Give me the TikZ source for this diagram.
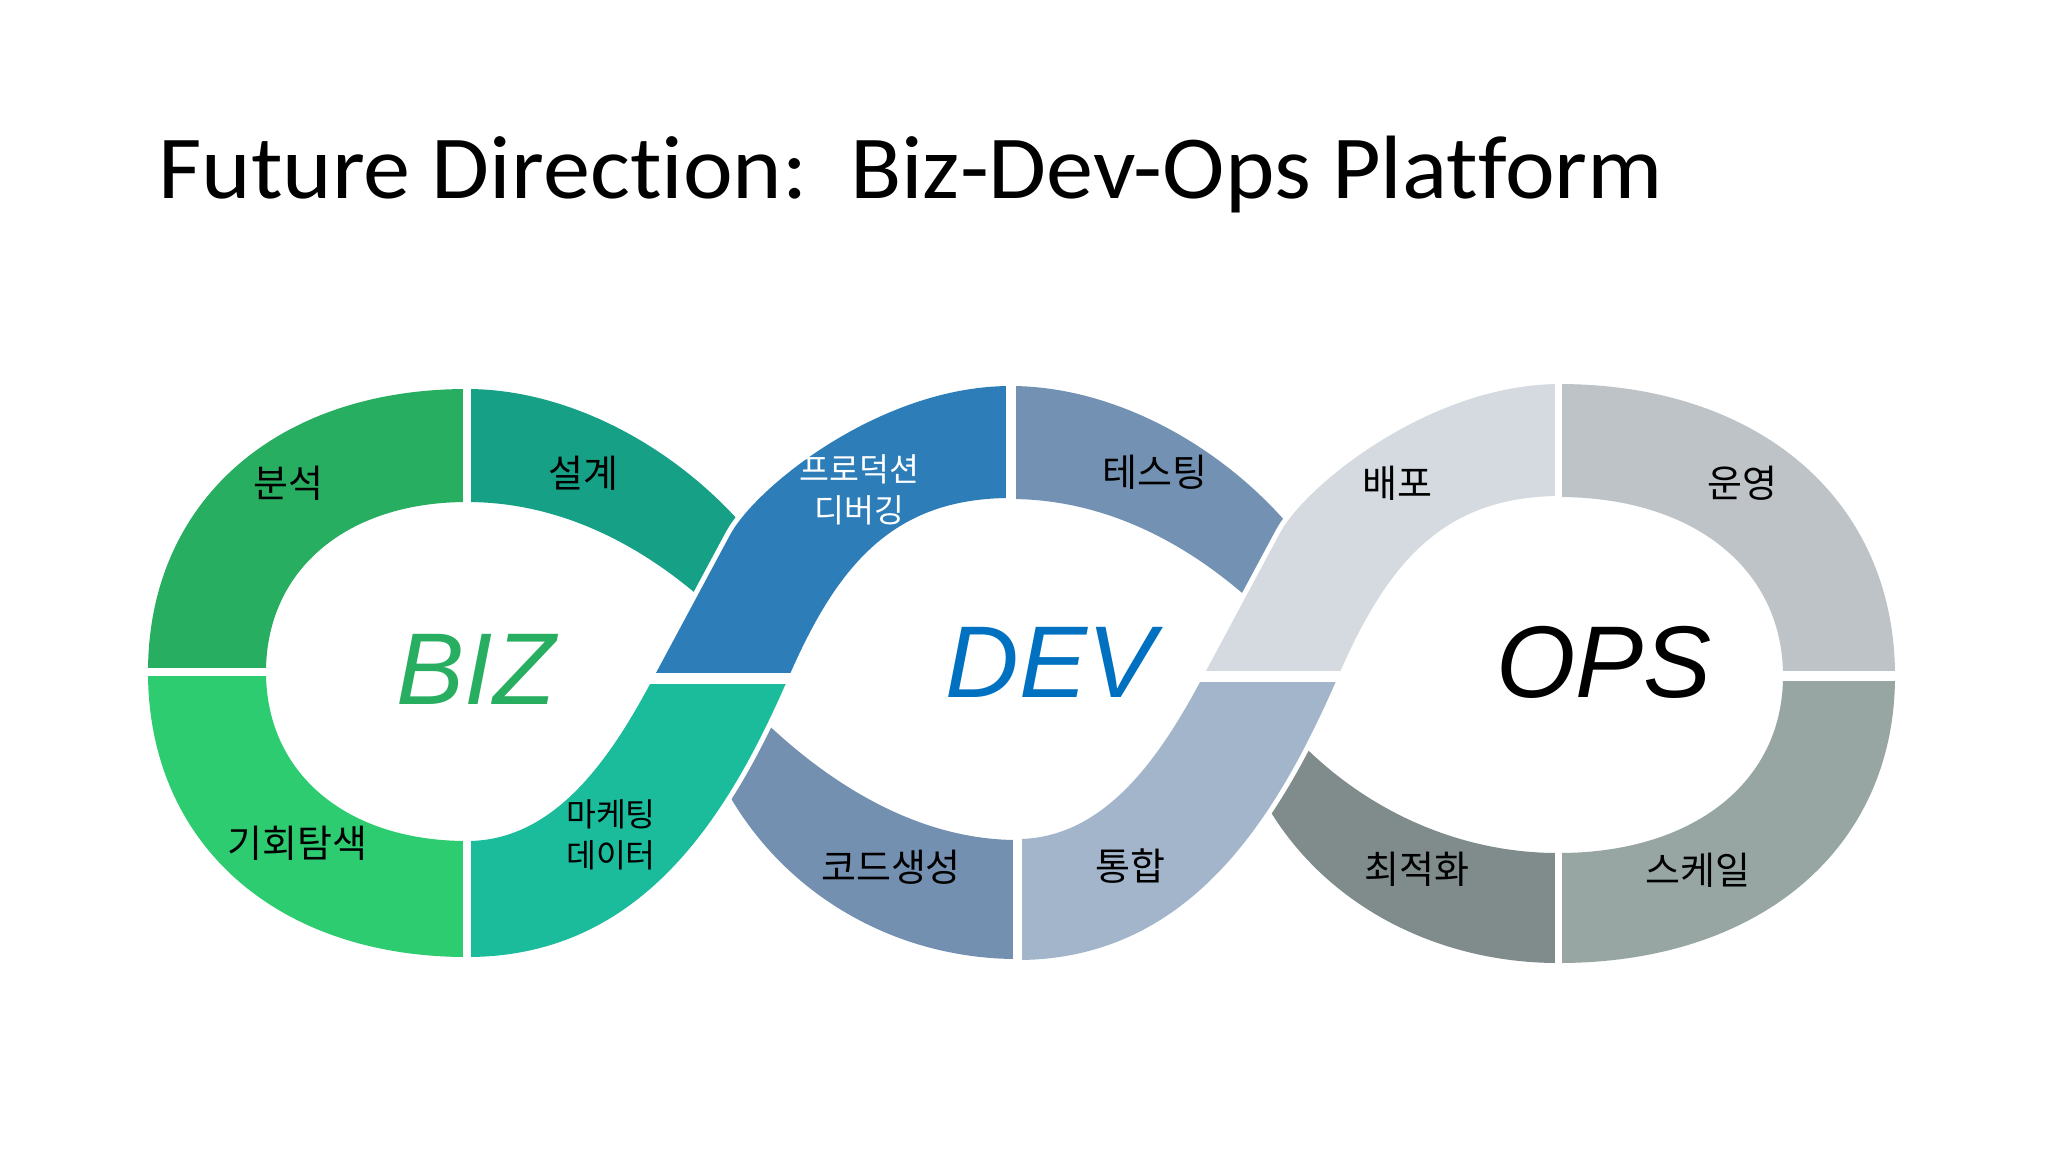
\documentclass[tikz,border=0pt]{standalone}
\usepackage{fontspec}
\setmainfont{Carlito}
\newfontfamily\titlefont[FakeStretch=1.047,Ligatures={NoCommon}]{Carlito}
\newfontfamily\krfont{Noto Sans CJK KR}
\newfontfamily\arialfont{Liberation Sans}
\definecolor{cBunseok}{HTML}{27AE60}
\definecolor{cSeolgye}{HTML}{16A085}
\definecolor{cGihoe}{HTML}{2ECC71}
\definecolor{cMarketing}{HTML}{1ABC9C}
\definecolor{cProd}{HTML}{2D7DB9}
\definecolor{cTesting}{HTML}{7391B2}
\definecolor{cCode}{HTML}{7390B1}
\definecolor{cTonghap}{HTML}{A2B5CB}
\definecolor{cBaepo}{HTML}{D4DADF}
\definecolor{cUnyeong}{HTML}{BEC3C8}
\definecolor{cChoejeok}{HTML}{7F8C8B}
\definecolor{cScale}{HTML}{97A6A3}
\definecolor{cBiz}{HTML}{27AE60}
\definecolor{cDev}{HTML}{0070C0}
\begin{document}
\begin{tikzpicture}[x=0.5pt,y=-0.5pt,
  gapline/.style={white,line width=#1},
  gapline/.default=4pt,
  lbl/.style={font=\krfont\fontsize{19}{23}\selectfont,inner sep=0pt,text=black},
  lbltwo/.style={font=\krfont\fontsize{16.25}{20.5}\selectfont,inner sep=0pt,align=center},
  big/.style={font=\arialfont\itshape\fontsize{51}{60}\selectfont,inner sep=0pt}]
\useasboundingbox (0,0) rectangle (2048,1152);
\fill[white] (0,0) rectangle (2048,1152);

% title
\node[anchor=base west,inner sep=0pt,font=\titlefont\fontsize{45}{54}\selectfont] (title) at (158,198) {Future Direction:\ \ Biz-Dev-Ops Platform};

% BIZ left half
\path[fill=cBunseok] (148,672) .. controls (148,502.2) and (275.6,389) .. (467,389) -- (467,502) .. controls (346.4,502) and (266,570) .. (266,672) -- cycle;
\path[fill=cGihoe] (148,672) .. controls (148,843) and (275.6,957) .. (467,957) -- (467,841) .. controls (346.4,841) and (266,773.4) .. (266,672) -- cycle;

% S2 (under): seolgye + code
\path[fill=cSeolgye] (467,389) .. controls (580,389) and (700,460) .. (770,560) -- (730,625) .. controls (650,545) and (560,502) .. (467,502) -- cycle;
\path[fill=cCode] (740.3,698.7) -- (769.5,726) .. controls (838.2,790.1) and (923.5,840) .. (1017.5,840) -- (1017.5,959) .. controls (898.5,959) and (788.5,898) .. (729,795) -- (709,760) -- cycle;

% S1 (over): marketing + production debugging
\draw[gapline=5pt] (467,841) .. controls (555.7,841) and (611.4,756.8) .. (653,678.5) -- (730,535) .. controls (755,488) and (880,386) .. (1010.5,386);
\draw[gapline=5pt] (467,957) .. controls (640,957) and (726.7,819.7) .. (788,678.5) .. controls (835.8,568.5) and (890.5,498) .. (1010.5,498);
\path[fill=cMarketing] (467,841) .. controls (555.7,841) and (611.4,756.8) .. (653,678.5) -- (788,678.5) .. controls (726.7,819.7) and (640,957) .. (467,957) -- cycle;
\path[fill=cProd] (653,678.5) -- (730,535) .. controls (755,488) and (880,386) .. (1010.5,386) -- (1010.5,498) .. controls (890.5,498) and (835.8,568.5) .. (788,678.5) -- cycle;

% S2' (under): testing + optimisation
\begin{scope}[shift={(543.5,-3)}]
\path[fill=cTesting] (467,389) .. controls (580,389) and (700,460) .. (770,560) -- (730,625) .. controls (650,545) and (560,502) .. (467,502) -- cycle;
\end{scope}
\path[fill=cChoejeok] (1281,724.5) -- (1310,752) .. controls (1377.2,815.8) and (1465.3,853) .. (1558,853) -- (1558,963) .. controls (1443.4,963) and (1333,911) .. (1272,814) -- (1250.7,780.2) -- cycle;

% S1' (over): integration + deployment
\begin{scope}[shift={(550,-2)}]
\draw[gapline=5pt] (467,841) .. controls (555.7,841) and (611.4,756.8) .. (653,678.5) -- (730,535) .. controls (755,488) and (880,386) .. (1010.5,386);
\draw[gapline=5pt] (467,962) .. controls (640,962) and (726.7,819.7) .. (788,678.5) .. controls (835.8,568.5) and (890.5,498) .. (1010.5,498);
\path[fill=cTonghap] (467,841) .. controls (555.7,841) and (611.4,756.8) .. (653,678.5) -- (788,678.5) .. controls (726.7,819.7) and (640,962) .. (467,962) -- cycle;
\path[fill=cBaepo] (653,678.5) -- (730,535) .. controls (755,488) and (880,386) .. (1010.5,386) -- (1010.5,498) .. controls (890.5,498) and (835.8,568.5) .. (788,678.5) -- cycle;
\end{scope}

% OPS right half
\path[fill=cUnyeong] (1558.5,384) .. controls (1760.4,384) and (1895,500.8) .. (1895,676) -- (1783,676) .. controls (1783,568.6) and (1693.2,497) .. (1558.5,497) -- cycle;
\path[fill=cScale] (1895,676) .. controls (1895,848.2) and (1760.4,963) .. (1558.5,963) -- (1558.5,853) .. controls (1693.2,853) and (1783,782.2) .. (1783,676) -- cycle;

% divider gaps
\draw[gapline=4pt] (467,376) -- (467,512);
\draw[gapline=4pt] (467,832) -- (467,970);
\draw[gapline=4pt] (138,672) -- (276,672);
\draw[gapline=5.5pt] (640,678.5) -- (800,678.5);
\draw[gapline=5pt] (1010.5,376) -- (1010.5,508);
\draw[gapline=4.5pt] (1017.5,830) -- (1017.5,972);
\draw[gapline=5.5pt] (1190,676.5) -- (1352,676.5);
\draw[gapline=3.5pt] (1558.5,374) -- (1558.5,507);
\draw[gapline=3.5pt] (1558.3,843) -- (1558.3,975);
\draw[gapline=5pt] (1773,676) -- (1905,676);

% labels
\node[lbl] (bunseok) at (288.5,483) {분석};
\node[lbl] (seolgye) at (583,473) {설계};
\node[lbl] (gihoe) at (297.4,843.6) {기회탐색};
\node[lbltwo] (marketing) at (611,835) {마케팅\\데이터};
\node[lbltwo,text=white] (prod) at (859.5,490) {프로덕션\\디버깅};
\node[lbl] (testing) at (1155,472.5) {테스팅};
\node[lbl] (code) at (891,867.5) {코드생성};
\node[lbl] (tonghap) at (1130,865.6) {통합};
\node[lbl] (baepo) at (1397.6,483) {배포};
\node[lbl] (unyeong) at (1742,483) {운영};
\node[lbl] (choejeok) at (1417,869) {최적화};
\node[lbl] (scale) at (1697.5,870) {스케일};

\node[big,text=cBiz] (biz) at (476,669.5) {BIZ};
\node[big,text=cDev] (dev) at (1050.7,662.7) {DEV};
\node[big,text=black] (ops) at (1604,662.8) {OPS};
\end{tikzpicture}
\end{document}
